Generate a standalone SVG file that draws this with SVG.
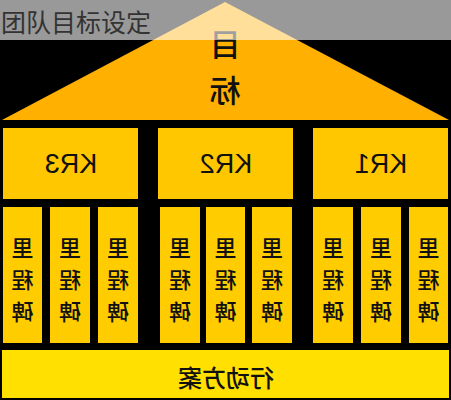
<svg xmlns="http://www.w3.org/2000/svg" width="451" height="400" viewBox="0 0 451 400">
<style>
.t{font-family:"Noto Sans CJK SC","Noto Sans",sans-serif;fill:#111;text-anchor:middle;dominant-baseline:central;font-weight:500}
.kr{fill:#FFC700}
.ms{fill:#FFCC00}
.kt{font-family:"Liberation Sans","Noto Sans",sans-serif;font-size:27px;fill:#111;text-anchor:middle;dominant-baseline:central}
.mt{font-size:22px}
</style>
<rect width="451" height="400" fill="#000"/>
<g id="goal">
<polygon points="225,2 2,120 449,120" fill="#FFB000"/>
<text class="t" font-size="31" transform="translate(225,0) scale(-1,1)"><tspan x="0" y="42">目</tspan><tspan x="0" y="88">标</tspan></text>
</g>
<g id="kr3"><rect class="kr" x="3" y="128" width="135" height="71"/><text class="kt" transform="translate(71,164) scale(-1,1)">KR3</text></g>
<g id="kr2"><rect class="kr" x="158" y="128" width="135" height="71"/><text class="kt" transform="translate(226,164) scale(-1,1)">KR2</text></g>
<g id="kr1"><rect class="kr" x="313" y="128" width="135" height="71"/><text class="kt" transform="translate(381,164) scale(-1,1)">KR1</text></g>
<g id="ms1"><rect class="ms" x="3" y="207" width="39" height="136"/><text class="t mt" transform="translate(22.5,0) scale(-1,1)"><tspan x="0" y="246">里</tspan><tspan x="0" y="278">程</tspan><tspan x="0" y="310">碑</tspan></text></g>
<g id="ms2"><rect class="ms" x="50" y="207" width="40" height="136"/><text class="t mt" transform="translate(70,0) scale(-1,1)"><tspan x="0" y="246">里</tspan><tspan x="0" y="278">程</tspan><tspan x="0" y="310">碑</tspan></text></g>
<g id="ms3"><rect class="ms" x="98" y="207" width="40" height="136"/><text class="t mt" transform="translate(118,0) scale(-1,1)"><tspan x="0" y="246">里</tspan><tspan x="0" y="278">程</tspan><tspan x="0" y="310">碑</tspan></text></g>
<g id="ms4"><rect class="ms" x="160" y="207" width="40" height="136"/><text class="t mt" transform="translate(180,0) scale(-1,1)"><tspan x="0" y="246">里</tspan><tspan x="0" y="278">程</tspan><tspan x="0" y="310">碑</tspan></text></g>
<g id="ms5"><rect class="ms" x="206" y="207" width="39" height="136"/><text class="t mt" transform="translate(225.5,0) scale(-1,1)"><tspan x="0" y="246">里</tspan><tspan x="0" y="278">程</tspan><tspan x="0" y="310">碑</tspan></text></g>
<g id="ms6"><rect class="ms" x="252" y="207" width="40" height="136"/><text class="t mt" transform="translate(272,0) scale(-1,1)"><tspan x="0" y="246">里</tspan><tspan x="0" y="278">程</tspan><tspan x="0" y="310">碑</tspan></text></g>
<g id="ms7"><rect class="ms" x="313" y="207" width="40" height="136"/><text class="t mt" transform="translate(333,0) scale(-1,1)"><tspan x="0" y="246">里</tspan><tspan x="0" y="278">程</tspan><tspan x="0" y="310">碑</tspan></text></g>
<g id="ms8"><rect class="ms" x="361" y="207" width="40" height="136"/><text class="t mt" transform="translate(381,0) scale(-1,1)"><tspan x="0" y="246">里</tspan><tspan x="0" y="278">程</tspan><tspan x="0" y="310">碑</tspan></text></g>
<g id="ms9"><rect class="ms" x="409" y="207" width="39" height="136"/><text class="t mt" transform="translate(428.5,0) scale(-1,1)"><tspan x="0" y="246">里</tspan><tspan x="0" y="278">程</tspan><tspan x="0" y="310">碑</tspan></text></g>
<g id="action"><rect x="2" y="350" width="447" height="48" fill="#FFE000"/><text class="t" font-size="24" transform="translate(226,376) scale(-1,1)">行动方案</text></g>
<g id="connectors"/>
<g id="title">
<rect x="0" y="0" width="451" height="40" fill="#fff" fill-opacity="0.6"/>
<text x="1" y="21" font-family="Noto Sans CJK SC,Noto Sans,sans-serif" font-size="25" fill="#333" dominant-baseline="central">团队目标设定</text>
</g>
</svg>
